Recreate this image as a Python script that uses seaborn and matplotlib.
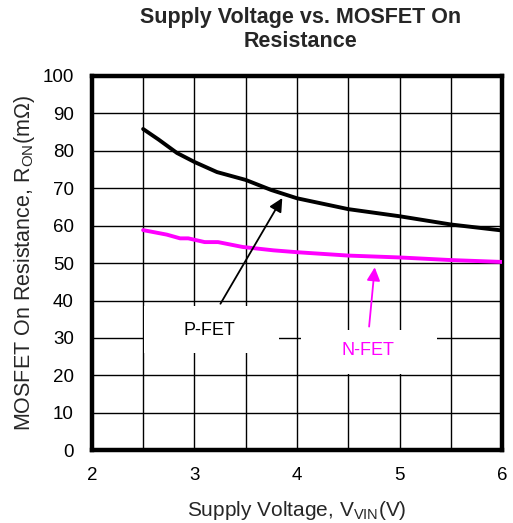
import pandas as pd
import seaborn as sns
import matplotlib.pyplot as plt

# values
pfet_v = [2.5, 2.65, 2.83, 3.0, 3.22, 3.5, 3.75, 4.0, 4.5, 5.0, 5.5, 6.0]
pfet_r = [85.8, 83.0, 79.4, 77.0, 74.3, 72.2, 69.5, 67.3, 64.4, 62.5, 60.3, 58.7]
nfet_v = [2.5, 2.73, 2.86, 2.94, 3.1, 3.23, 3.47, 3.77, 4.0, 4.5, 5.0, 5.5, 6.0]
nfet_r = [58.8, 57.6, 56.6, 56.6, 55.6, 55.6, 54.3, 53.4, 52.9, 52.0, 51.5, 50.8, 50.3]

x_ticks = [2, 3, 4, 5, 6]
y_ticks = list(range(0, 101, 10))

df = pd.concat([
    pd.DataFrame({'vin': pfet_v, 'ron': pfet_r, 'fet': 'P-FET'}),
    pd.DataFrame({'vin': nfet_v, 'ron': nfet_r, 'fet': 'N-FET'}),
])

sns.set_style('white')
plt.rcParams['font.family'] = ['Liberation Sans', 'DejaVu Sans']
plt.rcParams['mathtext.fontset'] = 'custom'
plt.rcParams['mathtext.rm'] = 'Liberation Sans'
plt.rcParams['mathtext.it'] = 'Liberation Sans:italic'

fig = plt.figure(figsize=(5.13, 5.23), dpi=100)
ax = fig.add_axes([0.179, 0.139, 0.8, 0.716])

sns.lineplot(data=df, x='vin', y='ron', hue='fet',
             palette={'P-FET': 'black', 'N-FET': '#ff00ff'},
             linewidth=2.8, legend=False, ax=ax, zorder=3)

ax.set_xlim(2, 6)
ax.set_ylim(0, 100)
ax.set_xticks(x_ticks)
ax.set_xticks([2.5, 3.5, 4.5, 5.5], minor=True)
ax.set_yticks(y_ticks)
ax.grid(which='both', color='black', linewidth=1.0)
ax.set_axisbelow(True)
ax.tick_params(which='both', length=0, labelsize=13.5, colors='black')
ax.tick_params(axis='x', pad=12)
ax.tick_params(axis='y', pad=13)
for s in ax.spines.values():
    s.set_visible(True)
    s.set_color('black')
    s.set_linewidth(3.2)

ax.set_xlabel(r'Supply Voltage, V$_{\mathrm{VIN}}$(V)', fontsize=15, labelpad=11)
ax.set_ylabel(r'MOSFET On Resistance, R$_{\mathrm{ON}}$(m$\Omega$)', fontsize=15.5, labelpad=4)

# two-line title (baseline = last line)
fig.text(0.586, 1 - 46.7 / 523, 'Supply Voltage vs. MOSFET On\nResistance',
         ha='center', va='baseline', fontsize=15.5, fontweight='bold',
         linespacing=1.2)

# label boxes with arrows
ax.annotate('', xy=(3.87, 68), xytext=(3.24, 38.5),
            arrowprops=dict(arrowstyle='-|>', color='black', lw=1.3,
                            mutation_scale=20), zorder=4)
ax.annotate('', xy=(4.76, 49.6), xytext=(4.70, 32.3),
            arrowprops=dict(arrowstyle='-|>', color='#ff00ff', lw=1.3,
                            mutation_scale=20), zorder=4)
ax.text(3.15, 32, 'P-FET', ha='center', va='center', fontsize=13, color='black',
        zorder=2)
ax.text(4.69, 26.6, 'N-FET', ha='center', va='center', fontsize=13, color='#ff00ff',
        zorder=2)
ax.add_patch(plt.Rectangle((2.505, 26.0), 1.315, 12.5, fc='white', ec='none', zorder=1.5))
ax.add_patch(plt.Rectangle((4.04, 20.3), 1.32, 11.95, fc='white', ec='none', zorder=1.5))

fig.savefig('out.png', dpi=100)
